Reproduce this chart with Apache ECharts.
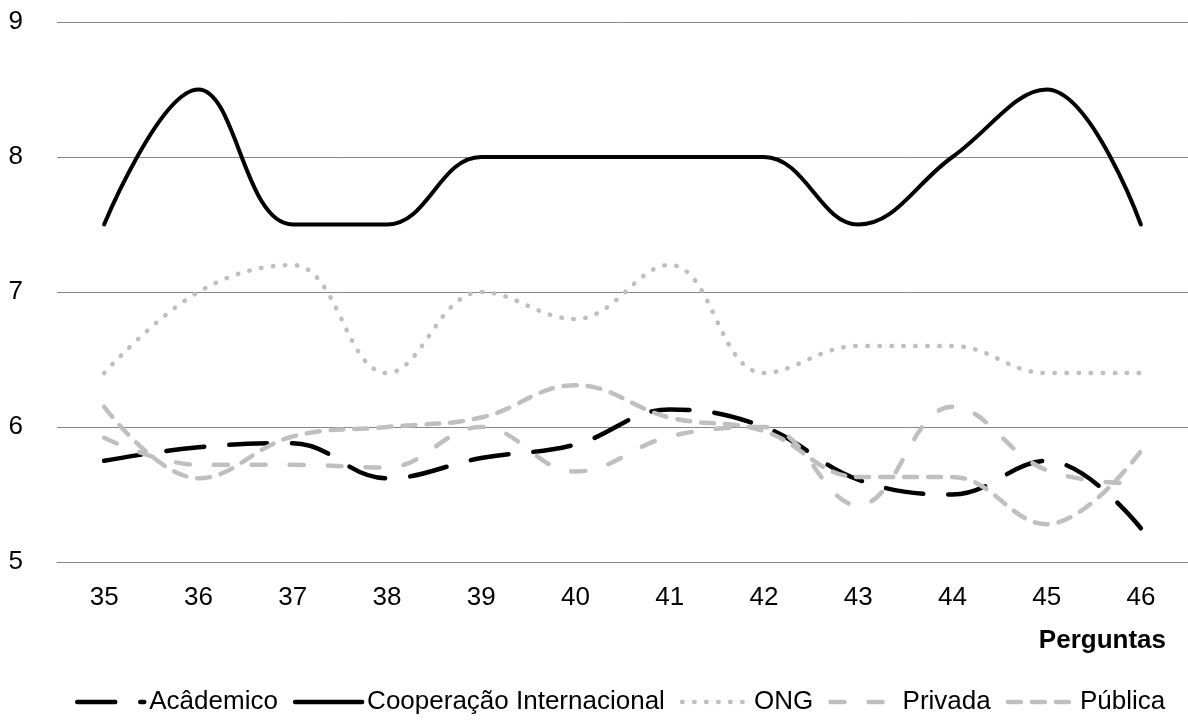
<!DOCTYPE html>
<html>
<head>
<meta charset="utf-8">
<script src="https://cdn.jsdelivr.net/npm/echarts@6/dist/echarts.min.js"></script>
<style>
html,body{margin:0;padding:0;background:#fff;}
#chart{width:1188px;height:724px;}
</style>
</head>
<body>
<div id="chart"></div>
<script>
var categories = ['35','36','37','38','39','40','41','42','43','44','45','46'];
var yTicks = [5, 6, 7, 8, 9];
var academico  = [5.75, 5.85, 5.88, 5.62, 5.77, 5.87, 6.13, 6.0, 5.61, 5.5, 5.75, 5.25];
var cooperacao = [7.5, 8.5, 7.5, 7.5, 8, 8, 8, 8, 7.5, 8, 8.5, 7.5];
var ong        = [6.4, 7.0, 7.2, 6.4, 7.0, 6.8, 7.2, 6.4, 6.6, 6.6, 6.4, 6.4];
var privada    = [5.92, 5.72, 5.72, 5.7, 6.0, 5.67, 5.93, 6.0, 5.42, 6.15, 5.68, 5.58];
var publica    = [6.15, 5.62, 5.93, 6.0, 6.07, 6.31, 6.07, 5.97, 5.63, 5.63, 5.28, 5.82];

var FONT = 'Liberation Sans, Arial, sans-serif';
var GREY = '#bfbfbf';
var SM = 0.4;

function mkSeries(name, data, color, width, dash) {
  return {
    name: name, type: 'line', data: data, smooth: SM, symbol: 'none',
    lineStyle: { color: color, width: width, type: dash || 'solid', cap: 'round', join: 'round' },
    itemStyle: { color: color }
  };
}

var chart = echarts.init(document.getElementById('chart'), null, { renderer: 'canvas' });
chart.setOption({
  animation: false,
  backgroundColor: '#ffffff',
  grid: { left: 57, right: -10, top: 22, bottom: 162, containLabel: false },
  xAxis: {
    type: 'category', data: categories, boundaryGap: true,
    axisLine: { show: true, lineStyle: { color: '#878787', width: 1 } },
    axisTick: { show: false },
    axisLabel: { color: '#000', fontSize: 26, fontFamily: FONT, margin: 23 },
    name: 'Perguntas', nameLocation: 'end', nameGap: -22,
    nameTextStyle: { color: '#000', fontSize: 26, fontWeight: 'bold', fontFamily: FONT,
      align: 'right', verticalAlign: 'top', padding: [66, 0, 0, 0] }
  },
  yAxis: {
    type: 'value', min: yTicks[0], max: yTicks[yTicks.length - 1], interval: 1,
    axisLine: { show: false }, axisTick: { show: false },
    axisLabel: { color: '#000', fontSize: 26, fontFamily: FONT, margin: 34 },
    splitLine: { show: true, lineStyle: { color: '#878787', width: 1 } }
  },
  legend: {
    left: 70, top: 684, itemWidth: 67, itemHeight: 26, itemGap: 15,
    itemStyle: { opacity: 0 },
    lineStyle: { width: 4.5, cap: 'round' },
    textStyle: { color: '#000', fontSize: 26, fontFamily: FONT },
    data: ['Acâdemico', 'Cooperação Internacional', 'ONG', 'Privada', 'Pública']
  },
  series: [
    mkSeries('Acâdemico', academico, '#000000', 4.5, [38, 25]),
    mkSeries('Cooperação Internacional', cooperacao, '#000000', 4),
    mkSeries('ONG', ong, GREY, 4.5, [0.5, 11.5]),
    mkSeries('Privada', privada, GREY, 4.5, [14, 24]),
    mkSeries('Pública', publica, GREY, 4.5, [13, 11])
  ]
});
</script>
</body>
</html>
